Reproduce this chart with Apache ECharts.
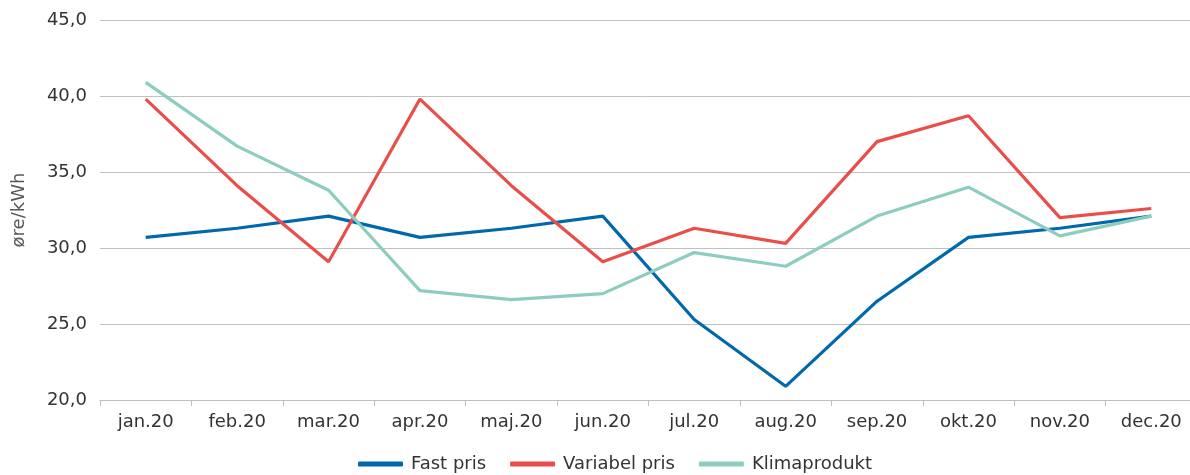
<!DOCTYPE html>
<html lang="da">
<head>
    <meta charset="utf-8">
    <title>Elpriser 2020</title>
    <script src="https://cdn.jsdelivr.net/npm/echarts@6/dist/echarts.min.js"></script>
    <style type="text/css">
        html, body {
            margin: 0;
            padding: 0;
            background: #ffffff;
        }

        #main {
            width: 1190px;
            height: 475px;
        }
    </style>
</head>
<body>
<div id="main"></div>
<script type="text/javascript">
    // måneder og priser (øre/kWh)
    const months = ['jan.20', 'feb.20', 'mar.20', 'apr.20', 'maj.20', 'jun.20',
        'jul.20', 'aug.20', 'sep.20', 'okt.20', 'nov.20', 'dec.20'];
    const fastPris = [30.7, 31.3, 32.1, 30.7, 31.3, 32.1, 25.3, 20.9, 26.5, 30.7, 31.3, 32.1];
    const variabelPris = [39.8, 34.1, 29.1, 39.8, 34.1, 29.1, 31.3, 30.3, 37.0, 38.7, 32.0, 32.6];
    const klimaprodukt = [40.9, 36.7, 33.8, 27.2, 26.6, 27.0, 29.7, 28.8, 32.1, 34.0, 30.8, 32.1];

    const fontFamily = '"DejaVu Sans", "Noto Sans", sans-serif';
    const chart = echarts.init(document.getElementById('main'));

    function lineSeries(name, data, color) {
        return {
            name: name,
            type: 'line',
            data: data,
            symbol: 'none',
            smooth: false,
            lineStyle: {width: 3.2, color: color},
            itemStyle: {color: color}
        };
    }

    chart.setOption({
        animation: false,
        textStyle: {fontFamily: fontFamily},
        grid: {left: 100, width: 1097, top: 20, height: 380, outerBoundsMode: 'none', containLabel: false},
        legend: {
            top: 455,
            left: 358,
            padding: 0,
            itemWidth: 45,
            itemHeight: 5,
            itemGap: 24,
            icon: 'roundRect',
            textStyle: {fontSize: 18, color: '#333333', fontFamily: fontFamily, padding: [0, 0, 0, 3]},
            data: ['Fast pris', 'Variabel pris', 'Klimaprodukt']
        },
        xAxis: {
            type: 'category',
            data: months,
            boundaryGap: true,
            axisLine: {lineStyle: {color: '#bfbfbf', width: 1}},
            axisTick: {show: true, length: 6, lineStyle: {color: '#bfbfbf'}},
            axisLabel: {fontSize: 18, color: '#333333', margin: 13}
        },
        yAxis: {
            type: 'value',
            min: 20,
            max: 45,
            interval: 5,
            name: 'øre/kWh',
            nameLocation: 'middle',
            nameGap: 72,
            nameRotate: 90,
            nameTextStyle: {fontSize: 18, color: '#595959'},
            axisLine: {show: false},
            axisTick: {show: false},
            splitLine: {lineStyle: {color: '#c0c0c0', width: 1}},
            axisLabel: {
                fontSize: 18,
                color: '#333333',
                margin: 13,
                formatter: function (v) {
                    return v.toFixed(1).replace('.', ',');
                }
            }
        },
        series: [
            lineSeries('Fast pris', fastPris, '#0068ac'),
            lineSeries('Variabel pris', variabelPris, '#e94e4b'),
            lineSeries('Klimaprodukt', klimaprodukt, '#8dcdbf')
        ]
    });
</script>
</body>
</html>
